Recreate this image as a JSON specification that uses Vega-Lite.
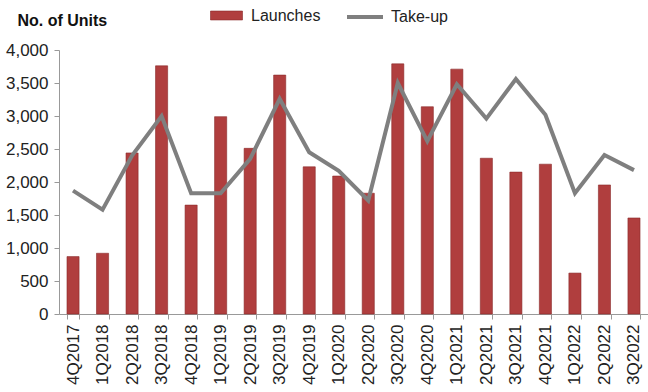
{
  "$schema": "https://vega.github.io/schema/vega-lite/v6.json",
  "autosize": {"type": "none"},
  "width": 589,
  "height": 264,
  "padding": {"left": 59, "top": 50, "right": 0, "bottom": 78},
  "background": "white",
  "config": {
    "view": {"stroke": null},
    "font": "Liberation Sans",
    "axis": {"labelFont": "Liberation Sans", "labelColor": "#222", "domainColor": "#999", "tickColor": "#999", "grid": false}
  },
  "data": {"values": [
    {"q": "4Q2017", "launches": 870, "takeup": 1870},
    {"q": "1Q2018", "launches": 920, "takeup": 1580},
    {"q": "2Q2018", "launches": 2440, "takeup": 2400},
    {"q": "3Q2018", "launches": 3760, "takeup": 3000},
    {"q": "4Q2018", "launches": 1650, "takeup": 1830},
    {"q": "1Q2019", "launches": 2990, "takeup": 1830},
    {"q": "2Q2019", "launches": 2510, "takeup": 2350},
    {"q": "3Q2019", "launches": 3620, "takeup": 3260},
    {"q": "4Q2019", "launches": 2230, "takeup": 2450},
    {"q": "1Q2020", "launches": 2090, "takeup": 2170},
    {"q": "2Q2020", "launches": 1830, "takeup": 1720},
    {"q": "3Q2020", "launches": 3790, "takeup": 3500},
    {"q": "4Q2020", "launches": 3140, "takeup": 2620},
    {"q": "1Q2021", "launches": 3710, "takeup": 3480},
    {"q": "2Q2021", "launches": 2360, "takeup": 2960},
    {"q": "3Q2021", "launches": 2150, "takeup": 3560},
    {"q": "4Q2021", "launches": 2270, "takeup": 3020},
    {"q": "1Q2022", "launches": 620, "takeup": 1830},
    {"q": "2Q2022", "launches": 1955, "takeup": 2410},
    {"q": "3Q2022", "launches": 1455, "takeup": 2180}
  ]},
  "encoding": {
    "x": {"field": "q", "type": "nominal", "sort": null,
      "scale": {"paddingInner": 0.59, "paddingOuter": 0.27},
      "axis": {"title": null, "labelAngle": -90, "labelFontSize": 17, "tickBand": "extent", "tickSize": 5, "labelPadding": 5}},
    "y": {"type": "quantitative",
      "scale": {"domain": [0, 4000]},
      "axis": {"values": [0,500,1000,1500,2000,2500,3000,3500,4000], "format": ",.0f", "labelFontSize": 17, "tickSize": 5, "labelPadding": 6,
        "title": "No. of Units", "titleAngle": 0, "titleAlign": "left", "titleBaseline": "middle", "titleX": -42, "titleY": -30, "titleFontSize": 16, "titleFontWeight": "bold", "titleColor": "#111"}}
  },
  "layer": [
    {
      "mark": {"type": "bar", "stroke": "#8a2a2a", "strokeWidth": 0.6},
      "encoding": {
        "y": {"field": "launches"},
        "fill": {"datum": "Launches", "type": "nominal",
          "scale": {"range": ["#B03E3E"]},
          "legend": {"title": null, "orient": "none", "legendX": 151, "legendY": -51, "labelFontSize": 16, "labelColor": "#222",
            "symbolType": "M-1,-0.28H1V0.28H-1Z", "symbolSize": 1024, "symbolStrokeColor": "#8a2a2a", "symbolStrokeWidth": 0.6, "labelOffset": 8}}
      }
    },
    {
      "mark": {"type": "line", "strokeWidth": 4},
      "encoding": {
        "y": {"field": "takeup"},
        "stroke": {"datum": "Take-up", "type": "nominal",
          "scale": {"range": ["#7F7F7F"]},
          "legend": {"title": null, "orient": "none", "legendX": 286, "legendY": -53, "labelFontSize": 16, "labelColor": "#222",
            "symbolType": "stroke", "symbolSize": 1296, "symbolStrokeWidth": 4, "labelOffset": 6}}
      }
    }
  ]
}
